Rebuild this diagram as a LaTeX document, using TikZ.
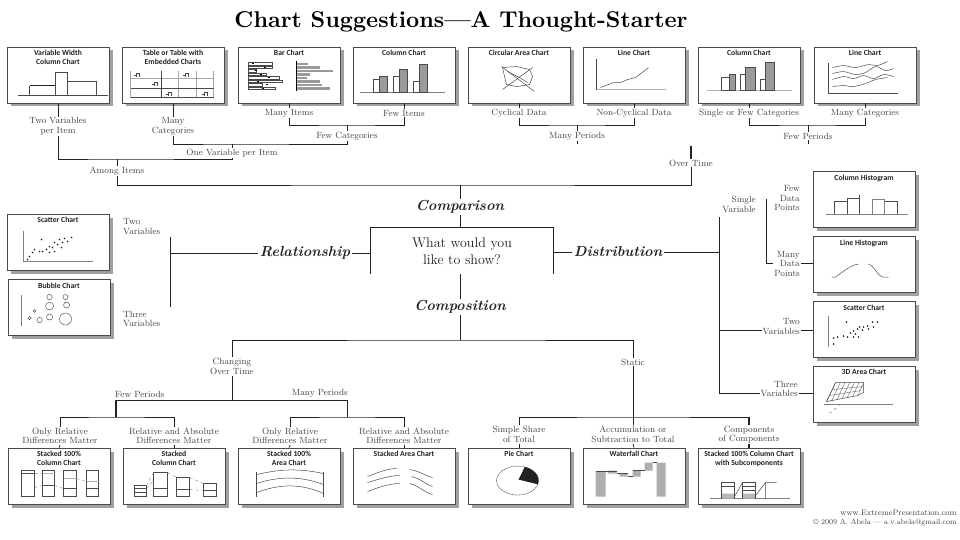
\documentclass[tikz,border=0pt]{standalone}
\usepackage{fontspec}
\usepackage{graphicx}
\newfontfamily\boxfont{Carlito}
\definecolor{ink}{HTML}{222222}
\definecolor{boxline}{HTML}{4A4A4A}
\definecolor{shade}{HTML}{A0A0A0}
\definecolor{chartgray}{HTML}{9A9A9A}
\tikzset{
 chartbox/.style={draw=boxline, line width=0.9pt, fill=white, minimum width=102pt, minimum height=56pt, inner sep=0pt},
 shadowfill/.style={fill=shade},
 ctitle/.style={font=\boxfont\bfseries\fontsize{7.7}{9}\selectfont, text=ink, align=center, inner sep=0pt, anchor=north},
 lbl/.style={font=\fontsize{9}{9.5}\selectfont, text=ink!85, align=center, inner sep=1pt},
 conn/.style={draw=ink, line width=0.8pt},
 thickconn/.style={draw=ink, line width=2.2pt},
 branch/.style={font=\bfseries\itshape\fontsize{14.5}{14.5}\selectfont, text=ink, inner sep=1.5pt},
 qbox/.style={minimum width=182pt, minimum height=46pt, inner sep=0pt, align=center, font=\fontsize{14}{17}\selectfont, text=ink},
 fine/.style={line width=0.5pt, draw=boxline},
 grayfill/.style={fill=chartgray, draw=boxline, line width=0.4pt},
 minibars/.pic={\draw[line width=0.4pt,boxline] (-4,-1.5) -- (-2,-1.5) (-1,0) -- (-1,-3) -- (2,-3) -- (2,0);}
}
% chart box with a grey drop shadow: name, x, y
\newcommand{\chartnode}[3]{%
  \fill[shadowfill] ({#2-47.5},{#3-24.5}) rectangle ({#2+54.5},{#3+31.5});
  \node[chartbox] (#1) at (#2,#3) {};}
\begin{document}
\begin{tikzpicture}[x=1pt,y=-1pt]
\useasboundingbox (0,0) rectangle (960,540);
\fill[white] (0,0) rectangle (960,540);

% title
\node (title) at (461,22) {\resizebox{453pt}{!}{\bfseries Chart Suggestions—A Thought-Starter}};

% ---------- top row boxes ----------
\chartnode{b1}{58}{75}
\chartnode{b2}{173}{75}
\chartnode{b3}{289}{75}
\chartnode{b4}{404}{75}
\chartnode{b5}{519}{75}
\chartnode{b6}{634}{75}
\chartnode{b7}{749}{75}
\chartnode{b8}{865}{75}
\node[ctitle] (t1) at ([yshift=-3.5pt]b1.north) {Variable Width\\Column Chart};
\node[ctitle] (t2) at ([yshift=-3.5pt]b2.north) {Table or Table with\\Embedded Charts};
\node[ctitle] (t3) at ([yshift=-3.5pt]b3.north) {Bar Chart};
\node[ctitle] (t4) at ([yshift=-3.5pt]b4.north) {Column Chart};
\node[ctitle] (t5) at ([yshift=-3.5pt]b5.north) {Circular Area Chart};
\node[ctitle] (t6) at ([yshift=-3.5pt]b6.north) {Line Chart};
\node[ctitle] (t7) at ([yshift=-3.5pt]b7.north) {Column Chart};
\node[ctitle] (t8) at ([yshift=-3.5pt]b8.north) {Line Chart};

% b1 variable width
\begin{scope}[shift={(b1.north west)}]
\draw[fine] (11,49) -- (101,49);
\draw[fine] (23,49) -- (23,39);
\draw[line width=1pt,ink] (23,39) -- (49,39);
\draw[fine] (49,49) -- (49,26) -- (61,26) -- (61,49);
\draw[fine] (61,35) -- (90,35) -- (90,49);
\end{scope}
% b2 table
\begin{scope}[shift={(b2.north west)}]
\draw[gray!70,line width=0.4pt] (9,24) -- (9,51) (57,24) -- (57,51) (75,24) -- (75,51) (92,24) -- (92,51) (9,32) -- (92,32);
\draw[boxline,line width=0.7pt] (40,24) -- (40,51) (9,42) -- (92,42) (9,51) -- (92,51);
\pic at (16,30) {minibars};
\pic at (34,39) {minibars};
\pic at (65,30) {minibars};
\pic at (48,49) {minibars};
\pic at (84,49) {minibars};
\end{scope}
% b3 bar chart
\begin{scope}[shift={(b3.north west)}]
\foreach \yy/\a/\b/\k in {16/35/70/14, 19.5/35/82/26, 23/19/95/17, 26.5/29/72/22, 30/42/69/30, 33.5/45/82/19, 37/25/84/28, 40.5/38/92/24}{
  \draw[line width=0.4pt,boxline] (11,\yy) rectangle (\a,\yy+2.5);
  \draw[line width=0.8pt,black] (\k,\yy+1.25) -- (\k+2,\yy+1.25);
  \fill[chartgray] (59,\yy) rectangle (\b,\yy+2.5);
}
\draw[line width=0.8pt,black] (59,14) -- (59,44);
\end{scope}
% b4 column chart
\begin{scope}[shift={(b4.north west)}]
\draw[line width=0.4pt,gray] (7,46) -- (92,46);
\draw[fine] (21,46) rectangle (27,33);
\draw[grayfill] (27,46) rectangle (35,30);
\draw[fine] (41,46) rectangle (47,30);
\draw[grayfill] (47,46) rectangle (55,23);
\draw[fine] (61,46) rectangle (67,35);
\draw[grayfill] (67,46) rectangle (75,18);
\end{scope}
% b5 circular area
\begin{scope}[shift={(b5.north west)}]
\draw[fine] (35,21) -- (49,20) -- (62,23) -- (65,30) -- (62,38) -- (49,40) -- (39,38) -- (37,30) -- cycle;
\draw[fine] (34,20) -- (67,45);
\draw[fine] (35,43) -- (65,21);
\draw[fine] (40,25) -- (52,31) -- (60,36);
\end{scope}
% b6 line chart
\begin{scope}[shift={(b6.north west)}]
\draw[fine] (14,12) -- (14,43);
\draw[line width=0.4pt,gray!60] (14,43) -- (83,43);
\draw[fine] (18,41) -- (31,36) -- (38,36) -- (45,33) -- (53,31) -- (66,21);
\end{scope}
% b7 column chart
\begin{scope}[shift={(b7.north west)}]
\draw[line width=0.4pt,gray!60] (9,44) -- (94,44);
\draw[fine] (24,44) rectangle (32,31);
\draw[grayfill] (32,44) rectangle (38,28);
\draw[fine] (43,44) rectangle (48,28);
\draw[grayfill] (48,44) rectangle (58,21);
\draw[fine] (63,44) rectangle (68,33);
\draw[grayfill] (68,44) rectangle (77,16);
\end{scope}
% b8 line chart
\begin{scope}[shift={(b8.north west)}]
\draw[fine] (15,16) -- (15,47) -- (84,47);
\draw[fine] plot[smooth] coordinates {(19,21) (30,19) (42,21) (55,18) (64,19) (74,15)};
\draw[fine] plot[smooth] coordinates {(19,27) (30,25) (42,28) (52,26) (62,20) (72,24) (80,22)};
\draw[fine] plot[smooth] coordinates {(19,33) (30,30) (40,32) (50,29) (60,32) (70,28) (80,30)};
\draw[fine] plot[smooth] coordinates {(19,40) (30,39) (40,40) (52,37) (62,33) (74,31)};
\end{scope}

% ---------- top labels ----------
\node[lbl] (l_twovar) at (58,126.5) {Two Variables\\per Item};
\node[lbl] (l_manycat) at (173,126.5) {Many\\Categories};
\node[lbl] (l_manyitems) at (289,113) {Many Items};
\node[lbl] (l_fewitems) at (404,113) {Few Items};
\node[lbl] (l_fewcat) at (347,136) {Few Categories};
\node[lbl] (l_onevar) at (232,153) {One Variable per Item};
\node[lbl] (l_among) at (117,171) {Among Items};
\node[lbl] (l_cyc) at (519,113) {Cyclical Data};
\node[lbl] (l_noncyc) at (634,113) {Non-Cyclical Data};
\node[lbl] (l_manyper) at (577,136) {Many Periods};
\node[lbl] (l_single) at (749,113) {Single or Few Categories};
\node[lbl] (l_manycat2) at (865,113) {Many Categories};
\node[lbl] (l_fewper) at (808,136) {Few Periods};
\node[lbl] (l_overtime) at (691,163) {Over Time};

\draw[conn] (b1.south) -- (l_twovar.north);
\draw[conn] (b2.south) -- (l_manycat.north);
\draw[conn] (b3.south) -- (l_manyitems.north);
\draw[conn] (b4.south) -- (l_fewitems.north);
\draw[conn] (b5.south) -- (l_cyc.north);
\draw[conn] (b6.south) -- (l_noncyc.north);
\draw[conn] (b7.south) -- (l_single.north);
\draw[conn] (b8.south) -- (l_manycat2.north);

\coordinate (j_items) at (347,125);
\draw[conn] (l_manyitems.south) |- (j_items) -| (l_fewitems.south);
\draw[conn] (j_items) -- (l_fewcat.north);
\coordinate (j_onevar) at (232,144);
\draw[conn] (l_manycat.south) |- (j_onevar) -| (l_fewcat.south);
\draw[conn] (j_onevar) -- (l_onevar.north);
\coordinate (j_among) at (117,159);
\draw[conn] (l_twovar.south) |- (j_among) -| (l_onevar.south);
\draw[conn] (j_among) -- (l_among.north);
\coordinate (j_manyper) at (577,125);
\draw[conn] (l_cyc.south) |- (j_manyper) -| (l_noncyc.south);
\draw[conn] (j_manyper) -- (l_manyper.north);
\coordinate (j_fewper) at (808,125);
\draw[conn] (l_single.south) |- (j_fewper) -| (l_manycat2.south);
\draw[conn] (j_fewper) -- (l_fewper.north);
\coordinate (t_manyper) at (577,144);
\coordinate (t_fewper) at (808,144);
\draw[conn,line width=0.5pt] (l_manyper.south) -- (t_manyper);
\draw[conn,line width=0.5pt] (l_fewper.south) -- (t_fewper);
\coordinate (t_overtime) at (691,146);
\draw[thickconn] (t_overtime) -- (l_overtime.north);

% ---------- centre ----------
\node[branch] (l_comp) at (460,207) {Comparison};
\node[qbox] (q) at (462,251) {What would you\\like to show?};
\draw[conn] (q.south west) -- (q.north west) -- (q.north east) -- (q.south east);
\coordinate (j_comp) at (460,185);
\draw[conn] (l_among.south) |- (j_comp) -| (l_overtime.south);
\draw[conn] (j_comp) -- (l_comp.north);
\draw[conn] (l_comp.south) -- (l_comp.south |- q.north);
\node[branch] (l_rel) at (305,253) {Relationship};
\node[branch] (l_dist) at (618,252) {Distribution};
\node[branch] (l_compo) at (460,307) {Composition};
\draw[conn] (l_rel.east) -- (l_rel.east -| q.west);
\draw[conn] (q.east |- l_dist.west) -- (l_dist.west);

% ---------- relationship ----------
\coordinate (j_rel) at (170,253);
\coordinate (rel_top) at (170,237);
\coordinate (rel_bot) at (170,307);
\draw[conn] (l_rel.west) -- (j_rel);
\draw[conn] (rel_top) -- (rel_bot);
\node[lbl, anchor=west, align=left] (l_rel2) at (122,226.5) {Two\\Variables};
\node[lbl, anchor=west, align=left] (l_rel3) at (122,319) {Three\\Variables};
\chartnode{sc1}{58}{242}
\chartnode{bb}{59}{307.5}
\node[ctitle] (tsc1) at ([yshift=-3.5pt]sc1.north) {Scatter Chart};
\node[ctitle] (tbb) at ([yshift=-3.5pt]bb.north) {Bubble Chart};
\begin{scope}[shift={(sc1.north west)}]
\draw[line width=0.4pt,gray] (17,17) -- (17,48) -- (86,48);
\foreach \p in {(21,46),(23,43),(26,39),(33,38),(35,26),(40,36),(43,33),(46,34),(48,29),(51,31),(53,26),(56,29),(58,25),(61,28),(65,24),(28,36),(36,38),(43,39),(48,38),(55,34)}
  \fill[ink] \p circle[radius=0.9];
\end{scope}
\begin{scope}[shift={(bb.north west)}]
\draw[line width=0.4pt,gray] (14,16) -- (14,47);
\draw[line width=0.45pt,boxline] (42,18) circle[radius=2.7] (58,18) circle[radius=2.5] (42,27) circle[radius=4] (59,26) circle[radius=3]
  (27,32) circle[radius=1.3] (22,39) circle[radius=1.7] (32,41) circle[radius=2.7] (42,38) circle[radius=3] (58,40) circle[radius=6];
\end{scope}

% ---------- distribution ----------
\coordinate (j_dist) at (719,252);
\coordinate (d_top) at (719,217);
\coordinate (d_two) at (719,330);
\coordinate (d_three) at (719,393);
\draw[conn] (l_dist.east) -- (j_dist);
\draw[conn] (d_top) -- (d_three);
\chartnode{ch}{864}{199.5}
\chartnode{lh}{864}{264.5}
\chartnode{sc2}{864}{329.5}
\chartnode{a3}{864}{394}
\node[ctitle] (tch) at ([yshift=-3.5pt]ch.north) {Column Histogram};
\node[ctitle] (tlh) at ([yshift=-3.5pt]lh.north) {Line Histogram};
\node[ctitle] (tsc2) at ([yshift=-3.5pt]sc2.north) {Scatter Chart};
\node[ctitle] (ta3) at ([yshift=-3.5pt]a3.north) {3D Area Chart};
\node[lbl, anchor=east, align=right] (l_sv) at (757,204.5) {Single\\Variable};
\node[lbl, anchor=east, align=right] (l_fdp) at (801,198) {Few\\Data\\Points};
\node[lbl, anchor=east, align=right] (l_mdp) at (801,263.5) {Many\\Data\\Points};
\coordinate (sv_top) at (766,199);
\coordinate (sv_bot) at (766,263);
\draw[conn] (sv_top) -- (sv_bot) -- (sv_bot -| l_mdp.west);
\draw[conn] (l_mdp.east |- sv_bot) -- (sv_bot -| lh.west);
\node[lbl, anchor=east, align=right] (l_dtwo) at (801,326.5) {Two\\Variables};
\draw[conn] (d_two) -- (d_two -| l_dtwo.west);
\draw[conn] (l_dtwo.east |- d_two) -- (d_two -| sc2.west);
\node[lbl, anchor=east, align=right] (l_dthree) at (799,389) {Three\\Variables};
\draw[conn] (d_three) -- (d_three -| l_dthree.west);
\draw[conn] (l_dthree.east |- d_three) -- (d_three -| a3.west);
\begin{scope}[shift={(ch.north west)}]
\draw[line width=0.4pt,gray] (13,43) -- (95,43);
\draw[fine] (22,43) -- (22,30) -- (35,30) -- (35,43);
\draw[fine] (35,30) -- (35,27) -- (47,27);
\draw[line width=0.8pt,boxline] (47,24) -- (47,43);
\draw[fine,gray] (60,43) -- (60,28) -- (72,28) -- (72,43);
\draw[fine] (72,30) -- (85,30) -- (85,43);
\end{scope}
\begin{scope}[shift={(lh.north west)}]
\draw[fine] (19,41) -- (23,41) .. controls (30,36) and (38,29) .. (46,28);
\draw[fine] (56,28) .. controls (62,30) and (65,40) .. (70,41) -- (76,41);
\end{scope}
\begin{scope}[shift={(sc2.north west)}]
\draw[line width=0.4pt,gray] (16,15) -- (16,46);
\foreach \p in {(21,43),(21,37),(25,36),(31,35),(35,36),(38,32),(41,30),(43,33),(45,28),(47,26),(50,29),(51,26),(55,25),(56,28),(60,21),(61,26),(65,21),(34,21),(46,36),(41,36)}
  \fill[ink] \p circle[radius=0.9];
\end{scope}
\begin{scope}[shift={(a3.north west)}]
\draw[line width=0.4pt,gray] (11,39) -- (80,39);
\draw[fine] (23,17) -- (51,17) -- (51,27) -- (45,30) -- (14,36) -- cycle;
\foreach \i in {0,...,6}{\draw[line width=0.3pt,boxline] ({23+4.7*\i},17) -- ({14+5.2*\i},{36-1*\i});}
\draw[line width=0.3pt,boxline] (20,24) -- (50,21) (17,30) -- (48,25);
\draw[line width=0.3pt,boxline,dashed] (17,48) -- (27,40);
\end{scope}

% ---------- composition ----------
\coordinate (j_compo) at (460,340);
\draw[conn] (q.south -| l_compo.north) -- (l_compo.north);
\draw[conn] (l_compo.south) -- (j_compo);
\node[lbl] (l_chg) at (232,366.5) {Changing\\Over Time};
\node[lbl] (l_static) at (633,362) {Static};
\draw[conn] (l_chg.north) |- (j_compo) -| (l_static.north);
\coordinate (j_chg) at (232,400);
\draw[conn] (l_chg.south) -- (j_chg);
\coordinate (fp_j) at (116,400);
\coordinate (mp_j) at (347,400);
\draw[conn] (fp_j) -- (mp_j);
\node[lbl, anchor=south west] (l_fp) at (114,399) {Few Periods};
\node[lbl, anchor=south east] (l_mp) at (349,399) {Many Periods};
\coordinate (fp_k) at (116,417);
\coordinate (mp_k) at (347,417);
\draw[thickconn] (fp_j) -- (fp_k);
\draw[conn] (mp_j) -- (mp_k);
\node[lbl] (l_or1) at (60,436) {Only Relative\\Differences Matter};
\node[lbl] (l_ra1) at (174,436) {Relative and Absolute\\Differences Matter};
\node[lbl] (l_or2) at (290,436) {Only Relative\\Differences Matter};
\node[lbl] (l_ra2) at (404,436) {Relative and Absolute\\Differences Matter};
\draw[conn] (l_or1.north) |- (fp_k) -| (l_ra1.north);
\draw[conn] (l_or2.north) |- (mp_k) -| (l_ra2.north);

\coordinate (j_static) at (633,417);
\draw[conn] (l_static.south) -- (j_static);
\node[lbl] (l_simple) at (519,434.5) {Simple Share\\of Total};
\node[lbl] (l_accum) at (633,434.5) {Accumulation or\\Subtraction to Total};
\node[lbl] (l_compcomp) at (749,434.5) {Components\\of Components};
\draw[conn] (l_simple.north) |- (j_static) -- (j_static -| l_compcomp.north);
\draw[conn] (j_static) -- (l_accum.north);
\draw[thickconn] (j_static -| l_compcomp.north) -- (l_compcomp.north);

% bottom boxes
\chartnode{c1}{59}{476}
\chartnode{c2}{174}{476}
\chartnode{c3}{289}{476}
\chartnode{c4}{404}{476}
\chartnode{c5}{519}{476}
\chartnode{c6}{634}{476}
\chartnode{c7}{749}{476}
\draw[conn] (l_or1.south) -- (c1.north);
\draw[conn] (l_ra1.south) -- (c2.north);
\draw[conn] (l_or2.south) -- (c3.north);
\draw[conn] (l_ra2.south) -- (c4.north);
\draw[conn] (l_simple.south) -- (c5.north);
\draw[conn] (l_accum.south) -- (c6.north);
\draw[thickconn] (l_compcomp.south) -- (c7.north);
\node[ctitle] (tc1) at ([yshift=-3.5pt]c1.north) {Stacked 100\%\\Column Chart};
\node[ctitle] (tc2) at ([yshift=-3.5pt]c2.north) {Stacked\\Column Chart};
\node[ctitle] (tc3) at ([yshift=-3.5pt]c3.north) {Stacked 100\%\\Area Chart};
\node[ctitle] (tc4) at ([yshift=-3.5pt]c4.north) {Stacked Area Chart};
\node[ctitle] (tc5) at ([yshift=-3.5pt]c5.north) {Pie Chart};
\node[ctitle] (tc6) at ([yshift=-3.5pt]c6.north) {Waterfall Chart};
\node[ctitle] (tc7) at ([yshift=-3.5pt]c7.north) {Stacked 100\% Column Chart\\with Subcomponents};

% stacked 100% column
\begin{scope}[shift={(c1.north west)}]
\draw[fine] (14,23) rectangle (27,49) (35,23) rectangle (47,49) (56,23) rectangle (69,49) (79,23) rectangle (91,49);
\draw[fine] (14,26) -- (27,26) (35,38) -- (47,38) (56,41) -- (69,41) (79,41) -- (91,41);
\draw[line width=0.4pt,gray!60] (56,31) -- (69,31) (79,34) -- (91,34) (35,26) -- (47,26);
\draw[line width=0.4pt,gray,dashed] (27,40) -- (35,38) (47,38) -- (56,41) (69,31) -- (79,34) (27,26) -- (35,26);
\end{scope}
% stacked column
\begin{scope}[shift={(c2.north west)}]
\draw[fine] (12,38) rectangle (24,49) (31,25) rectangle (45,49) (54,30) rectangle (67,49) (81,36) rectangle (94,49);
\draw[fine] (12,41) -- (24,41) (12,45) -- (24,45) (31,41) -- (45,41) (54,42) -- (67,42) (81,43) -- (94,43);
\draw[line width=0.9pt,boxline] (54,30) -- (54,49);
\draw[line width=0.4pt,gray,dashed] (24,38) -- (31,25) (24,41) -- (31,33) (45,25) -- (54,30) (67,30) -- (81,36) (67,42) -- (81,43);
\end{scope}
% stacked 100% area
\begin{scope}[shift={(c3.north west)}]
\draw[fine] (19,24) -- (19,49) (86,24) -- (86,49);
\draw[fine] (19,27) .. controls (45,21) and (62,21) .. (86,26);
\draw[fine] (19,36) .. controls (40,29) and (62,28) .. (86,37);
\draw[fine] (19,45) .. controls (40,37) and (62,35) .. (86,46);
\end{scope}
% stacked area
\begin{scope}[shift={(c4.north west)}]
\draw[fine] (15,29) .. controls (25,25) and (35,21) .. (44,21);
\draw[fine] (57,22) .. controls (66,23) and (72,28) .. (80,30);
\draw[fine] (15,35) .. controls (25,32) and (37,28) .. (47,28);
\draw[fine] (59,29) .. controls (68,31) and (73,37) .. (80,39);
\draw[fine] (15,44) .. controls (25,40) and (37,36) .. (47,36);
\draw[fine] (57,36) .. controls (66,38) and (72,45) .. (80,47);
\end{scope}
% pie
\begin{scope}[shift={(c5.north west)}]
\draw[line width=0.4pt,ink,dash pattern=on 1.2pt off 0.6pt] (50,33) ellipse [x radius=21, y radius=14.5];
\fill[ink] (51,32) -- ({50+21*cos(-70)},{33+14.5*sin(-70)}) arc[start angle=-70, end angle=15, x radius=21, y radius=14.5] -- cycle;
\end{scope}
% waterfall
\begin{scope}[shift={(c6.north west)}]
\fill[chartgray!80] (13,24) rectangle (23,49) (25,23) rectangle (34,26) (37,26) rectangle (45,29) (50,23) rectangle (58,29) (62,15) rectangle (70,23) (74,15) rectangle (83,49);
\draw[line width=0.4pt,boxline] (13,24) -- (34,24) (34,26) -- (45,26) (45,29) -- (50,29) (50,23) -- (62,23) (70,15) -- (74,15);
\end{scope}
% stacked 100% with subcomponents
\begin{scope}[shift={(c7.north west)}]
\draw[line width=0.4pt,gray] (12,51) -- (92,51);
\fill[chartgray!70] (24,46) rectangle (37,51) (45,46) rectangle (58,51);
\draw[fine] (24,51) -- (24,35) -- (37,35) -- (37,51) (24,39) -- (37,39);
\draw[fine] (45,51) -- (45,35) -- (58,35) -- (58,51) (45,39) -- (58,39) (45,43) -- (58,43);
\draw[fine] (37,49) -- (45,35) (58,48) -- (68,35) -- (79,35) (68,35) -- (68,51);
\end{scope}

% footer
\node[lbl, anchor=east, font=\fontsize{8}{8}\selectfont] (web) at (958,513) {www.ExtremePresentation.com};
\node[lbl, anchor=east, font=\fontsize{7.5}{8}\selectfont] (copy) at (958,523) {© 2009  A. Abela — a.v.abela@gmail.com};
\end{tikzpicture}
\end{document}
